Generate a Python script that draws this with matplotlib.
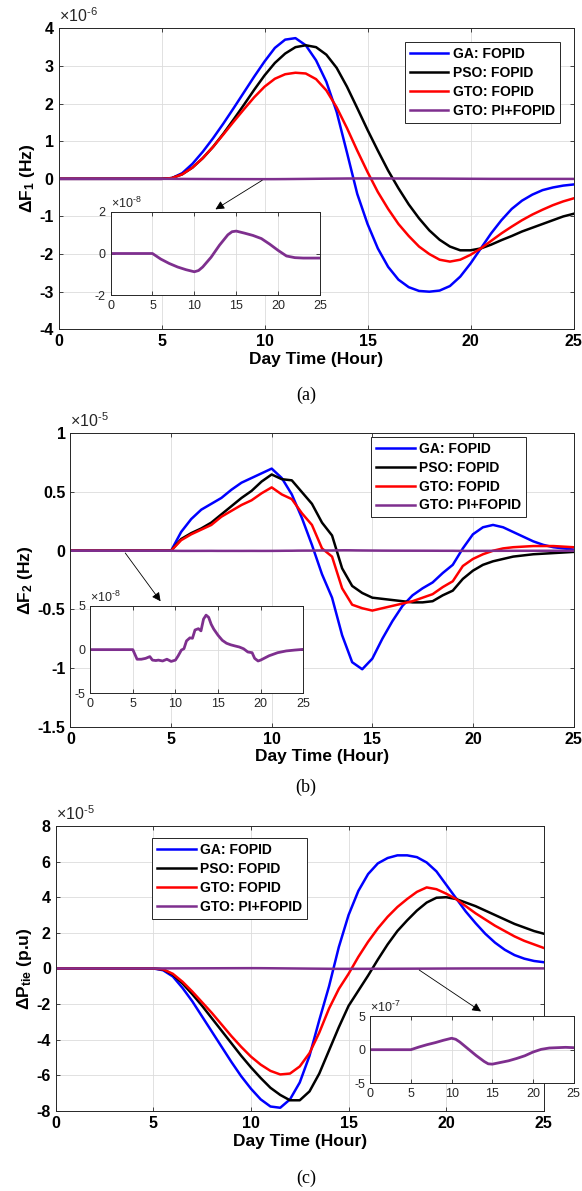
import matplotlib
matplotlib.use("Agg")
import matplotlib.pyplot as plt

# --- Fontes (Arial -> Liberation Sans) ---
plt.rcParams['font.family'] = ['Liberation Sans', 'DejaVu Sans']
plt.rcParams['mathtext.fontset'] = 'custom'
plt.rcParams['mathtext.rm'] = 'Liberation Sans'
plt.rcParams['mathtext.bf'] = 'Liberation Sans:bold'
plt.rcParams['mathtext.it'] = 'Liberation Sans:italic'
plt.rcParams['axes.unicode_minus'] = False

# --- Dados (a): Delta F1, x1e-6 ---
t_a = [0, 5, 5.5, 6, 6.5, 7, 7.5, 8, 8.5, 9, 9.5, 10, 10.5, 11, 11.5, 12, 12.5, 13, 13.5,
       14, 14.5, 15, 15.5, 16, 16.5, 17, 17.5, 18, 18.5, 19, 19.5, 20, 20.5, 21, 21.5,
       22, 22.5, 23, 23.5, 24, 24.5, 25]
ga_a = [0, 0, 0.02, 0.15, 0.4, 0.72, 1.08, 1.47, 1.88, 2.3, 2.72, 3.12, 3.48, 3.7, 3.74,
        3.55, 3.15, 2.58, 1.78, 0.7, -0.4, -1.2, -1.85, -2.34, -2.68, -2.88, -2.98, -3.0,
        -2.97, -2.85, -2.6, -2.25, -1.85, -1.45, -1.1, -0.8, -0.58, -0.42, -0.3, -0.23,
        -0.18, -0.15]
pso_a = [0, 0, 0.02, 0.12, 0.3, 0.55, 0.85, 1.2, 1.58, 1.97, 2.37, 2.75, 3.08, 3.33, 3.5,
         3.55, 3.5, 3.3, 2.95, 2.45, 1.88, 1.3, 0.75, 0.22, -0.25, -0.68, -1.05, -1.37,
         -1.62, -1.8, -1.9, -1.9, -1.85, -1.75, -1.63, -1.52, -1.4, -1.3, -1.2, -1.1,
         -1.0, -0.93]
gto_a = [0, 0, 0.02, 0.12, 0.3, 0.55, 0.85, 1.18, 1.52, 1.85, 2.17, 2.45, 2.66, 2.78, 2.82,
         2.8, 2.65, 2.35, 1.9, 1.35, 0.75, 0.18, -0.35, -0.8, -1.2, -1.52, -1.8, -2.0,
         -2.15, -2.2, -2.15, -2.02, -1.85, -1.65, -1.45, -1.27, -1.1, -0.95, -0.82, -0.7,
         -0.6, -0.52]
# PI+FOPID (x1e-8)
t_pa = [0, 5, 6, 7, 8, 9, 10, 10.5, 11, 12, 13, 14, 14.5, 15, 16, 17, 18, 19, 20, 21, 22,
        23, 24, 25]
pi_a = [0, 0, -0.27, -0.48, -0.65, -0.78, -0.88, -0.82, -0.65, -0.18, 0.4, 0.9, 1.05, 1.08,
        0.98, 0.87, 0.72, 0.45, 0.15, -0.12, -0.2, -0.22, -0.22, -0.22]

# --- Dados (b): Delta F2, x1e-5 ---
t_b = [0, 5, 5.5, 6, 6.5, 7, 7.5, 8, 8.5, 9, 9.5, 10, 10.5, 11, 11.5, 12, 12.5, 13, 13.5,
       14, 14.5, 15, 15.5, 16, 16.5, 17, 17.5, 18, 18.5, 19, 19.5, 20, 20.5, 21, 21.5,
       22, 22.5, 23, 23.5, 24, 24.5, 25]
ga_b = [0, 0, 0.16, 0.27, 0.35, 0.4, 0.45, 0.52, 0.58, 0.62, 0.66, 0.7, 0.62, 0.48, 0.28,
        0.05, -0.2, -0.4, -0.72, -0.95, -1.01, -0.92, -0.75, -0.6, -0.47, -0.38, -0.32,
        -0.27, -0.19, -0.12, 0.02, 0.14, 0.2, 0.22, 0.2, 0.16, 0.12, 0.08, 0.05, 0.03,
        0.02, 0.01]
pso_b = [0, 0, 0.1, 0.15, 0.19, 0.24, 0.31, 0.38, 0.45, 0.51, 0.59, 0.65, 0.61, 0.6, 0.5,
         0.4, 0.24, 0.13, -0.15, -0.3, -0.36, -0.4, -0.41, -0.42, -0.43, -0.44, -0.44,
         -0.43, -0.38, -0.34, -0.24, -0.17, -0.12, -0.09, -0.07, -0.05, -0.04, -0.03,
         -0.025, -0.02, -0.015, -0.01]
gto_b = [0, 0, 0.09, 0.14, 0.18, 0.22, 0.29, 0.34, 0.39, 0.43, 0.49, 0.54, 0.48, 0.44, 0.32,
         0.22, 0.02, -0.05, -0.32, -0.46, -0.49, -0.51, -0.49, -0.47, -0.45, -0.43, -0.4,
         -0.37, -0.31, -0.26, -0.13, -0.07, -0.03, 0.0, 0.02, 0.03, 0.035, 0.04, 0.04,
         0.04, 0.035, 0.03]
# PI+FOPID (x1e-8)
t_pb = [0, 5, 5.5, 6, 6.5, 7, 7.3, 7.7, 8, 8.5, 9, 9.5, 10, 10.3, 10.7, 11, 11.3, 11.7, 12,
        12.3, 12.7, 13, 13.3, 13.6, 13.9, 14.2, 14.5, 15, 15.5, 16, 16.5, 17, 17.5, 18,
        18.5, 19, 19.3, 19.7, 20, 20.5, 21, 22, 23, 24, 25]
pi_b = [0, 0, -1.1, -1.1, -1.0, -0.8, -1.2, -1.25, -1.2, -1.3, -1.1, -1.35, -1.2, -0.75,
        -0.05, 0.1, 1.0, 1.35, 1.3, 2.25, 2.4, 2.15, 3.5, 3.95, 3.7, 2.9, 2.35, 1.65, 1.07,
        0.73, 0.55, 0.42, 0.3, 0.1, -0.27, -0.35, -1.0, -1.3, -1.2, -0.95, -0.7, -0.35,
        -0.15, -0.05, 0.03]

# --- Dados (c): Delta Ptie, x1e-5 ---
t_c = [0, 5, 5.5, 6, 6.5, 7, 7.5, 8, 8.5, 9, 9.5, 10, 10.5, 11, 11.5, 12, 12.5, 13, 13.5,
       14, 14.5, 15, 15.5, 16, 16.5, 17, 17.5, 18, 18.5, 19, 19.5, 20, 20.5, 21, 21.5,
       22, 22.5, 23, 23.5, 24, 24.5, 25]
ga_c = [0, 0, -0.1, -0.45, -1.1, -1.85, -2.7, -3.55, -4.4, -5.25, -6.05, -6.75, -7.35,
        -7.75, -7.82, -7.35, -6.4, -4.9, -2.9, -1.0, 1.2, 3.0, 4.35, 5.3, 5.9, 6.2, 6.35,
        6.35, 6.25, 5.95, 5.45, 4.7, 3.95, 3.2, 2.55, 1.95, 1.45, 1.05, 0.75, 0.55, 0.42,
        0.35]
pso_c = [0, 0, -0.05, -0.35, -0.85, -1.45, -2.1, -2.8, -3.5, -4.2, -4.9, -5.55, -6.15,
         -6.7, -7.1, -7.4, -7.4, -6.9, -5.9, -4.6, -3.3, -2.1, -1.25, -0.4, 0.5, 1.35, 2.1,
         2.7, 3.25, 3.7, 3.97, 4.0, 3.9, 3.7, 3.5, 3.25, 3.0, 2.75, 2.5, 2.3, 2.1, 1.95]
gto_c = [0, 0, -0.05, -0.3, -0.75, -1.3, -1.9, -2.5, -3.15, -3.8, -4.4, -4.95, -5.4, -5.75,
         -5.95, -5.9, -5.5, -4.75, -3.6, -2.25, -1.15, -0.3, 0.65, 1.5, 2.25, 2.9, 3.45,
         3.9, 4.3, 4.55, 4.45, 4.2, 3.9, 3.5, 3.1, 2.75, 2.4, 2.1, 1.8, 1.55, 1.35, 1.15]
# PI+FOPID (x1e-7)
t_pc = [0, 5, 6, 7, 8, 9, 10, 10.5, 11, 12, 13, 14, 14.5, 15, 16, 17, 18, 19, 20, 21, 22,
        23, 24, 25]
pi_c = [0, 0, 0.4, 0.75, 1.05, 1.4, 1.7, 1.55, 1.15, 0.15, -0.85, -1.75, -2.1, -2.15, -1.9,
        -1.65, -1.3, -0.9, -0.35, 0.05, 0.25, 0.3, 0.35, 0.3]

labels = ["GA: FOPID", "PSO: FOPID", "GTO: FOPID", "GTO: PI+FOPID"]
cores = ["#0000ff", "#000000", "#ff0000", "#7e2f8e"]
cinza = "#262626"


def estilo(ax, fs, bold):
    ax.grid(True, color="#dcdcdc", lw=0.6)
    ax.set_axisbelow(True)
    for s in ax.spines.values():
        s.set_color(cinza)
        s.set_linewidth(0.7)
    ax.tick_params(direction="in", length=3, colors=cinza, labelsize=fs,
                   top=True, right=True, width=0.6)
    if bold:
        for lb in ax.get_xticklabels() + ax.get_yticklabels():
            lb.set_fontweight("bold")
            lb.set_color("black")


def expoente(e):
    # hifen no lugar do sinal de menos, como no original
    return r"$\times10^{%s}$" % e.replace("-", "\u2010")


fig = plt.figure(figsize=(5.82, 11.91), dpi=100)

paineis = [
    dict(rect=[0.1007, 0.7235, 0.8847, 0.2527], irect=[0.190, 0.7523, 0.3598, 0.0697],
         t=t_a, ys=[ga_a, pso_a, gto_a], tp=t_pa, pi=pi_a, fator=0.01,
         ylim=(-4, 4), yt=[-4, -3, -2, -1, 0, 1, 2, 3, 4], ylt=None,
         ilim=(-2, 2), iyt=[-2, 0, 2], mult="-6", imult="-8",
         ylabel=r"ΔF$_{\mathbf{1}}$ (Hz)",
         leg=dict(loc="upper right", borderaxespad=1.0),
         seta=((10, 0), (7.5, -0.85)), cap="(a)", capy=395),
    dict(rect=[0.1211, 0.3898, 0.8643, 0.2463], irect=[0.155, 0.4179, 0.366, 0.0733],
         t=t_b, ys=[ga_b, pso_b, gto_b], tp=t_pb, pi=pi_b, fator=0.001,
         ylim=(-1.5, 1), yt=[-1.5, -1, -0.5, 0, 0.5, 1],
         ylt=["-1.5", "-1", "-0.5", "0", "0.5", "1"],
         ilim=(-5, 5), iyt=[-5, 0, 5], mult="-5", imult="-8",
         ylabel=r"ΔF$_{\mathbf{2}}$ (Hz)",
         leg=dict(loc="upper right", bbox_to_anchor=(0.906, 0.988), borderaxespad=0),
         seta=((2.64, 0), (4.56, -0.45)), cap="(b)", capy=787),
    dict(rect=[0.0957, 0.0672, 0.8387, 0.2393], irect=[0.636, 0.0904, 0.3498, 0.0565],
         t=t_c, ys=[ga_c, pso_c, gto_c], tp=t_pc, pi=pi_c, fator=0.01,
         ylim=(-8, 8), yt=[-8, -6, -4, -2, 0, 2, 4, 6, 8], ylt=None,
         ilim=(-5, 5), iyt=[-5, 0, 5], mult="-5", imult="-7",
         ylabel=r"ΔP$_{\mathbf{tie}}$ (p.u)",
         leg=dict(loc="upper left", bbox_to_anchor=(0.198, 0.957), borderaxespad=0),
         seta=((18.5, 0), (21.9, -2.5)), cap="(c)", capy=1178),
]

for p in paineis:
    ax = fig.add_axes(p["rect"])
    for y, c, lab in zip(p["ys"], cores[:3], labels[:3]):
        ax.plot(p["t"], y, color=c, lw=1.8, label=lab)
    ax.plot(p["tp"], [v * p["fator"] for v in p["pi"]], color=cores[3], lw=1.8,
            label=labels[3])
    ax.set_xlim(0, 25)
    ax.set_ylim(*p["ylim"])
    ax.set_xticks([0, 5, 10, 15, 20, 25])
    ax.set_yticks(p["yt"])
    if p["ylt"]:
        ax.set_yticklabels(p["ylt"])
    estilo(ax, 11.5, True)
    ax.set_xlabel("Day Time (Hour)", fontsize=12.5, fontweight="bold", labelpad=2)
    ax.set_ylabel(p["ylabel"], fontsize=12.5, fontweight="bold", labelpad=2)
    ax.text(0.0, 1.01, expoente(p["mult"]), transform=ax.transAxes,
            fontsize=11.5, ha="left", va="bottom", color=cinza)
    leg = ax.legend(prop={"weight": "bold", "size": 10}, fancybox=False,
                    edgecolor=cinza, framealpha=1, handlelength=2.8,
                    handletextpad=0.3, labelspacing=0.35, borderpad=0.35, **p["leg"])
    leg.get_frame().set_linewidth(0.7)
    ax.annotate("", xy=p["seta"][1], xytext=p["seta"][0],
                arrowprops=dict(arrowstyle="-|>", color="black", lw=0.6,
                                mutation_scale=13), annotation_clip=False)

    # --- inset ---
    ia = fig.add_axes(p["irect"])
    ia.set_zorder(5)
    ia.plot(p["tp"], p["pi"], color=cores[3], lw=2)
    ia.set_xlim(0, 25)
    ia.set_ylim(*p["ilim"])
    ia.set_xticks([0, 5, 10, 15, 20, 25])
    ia.set_yticks(p["iyt"])
    estilo(ia, 9, False)
    ia.text(0.0, 1.01, expoente(p["imult"]), transform=ia.transAxes,
            fontsize=9, ha="left", va="bottom", color=cinza)

    fig.text(0.526, 1 - p["capy"] / 1191, p["cap"], ha="center", va="center",
             fontsize=13, family="Liberation Serif")

fig.savefig("out.png", dpi=100)
